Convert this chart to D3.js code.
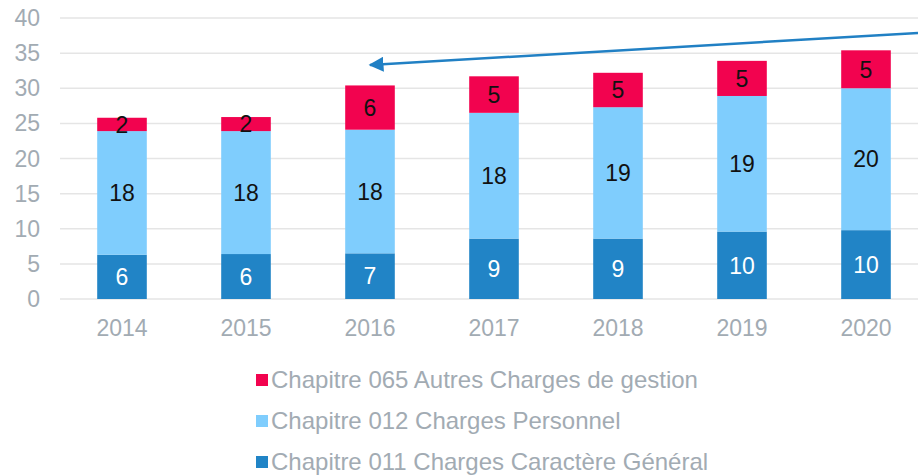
<!DOCTYPE html>
<html>
<head>
<meta charset="utf-8">
<script src="https://cdn.jsdelivr.net/npm/d3@7"></script>
<style>
  body { margin: 0; background: #fff; }
  svg { display: block; font-family: "Liberation Sans", Arial, sans-serif; }
</style>
</head>
<body>
<div id="chart"></div>
<script>
const width = 918;
const height = 476;

// data
const years = ["2014", "2015", "2016", "2017", "2018", "2019", "2020"];
const chap011 = [6.3, 6.4, 6.5, 8.6, 8.6, 9.6, 9.8];
const chap012 = [17.6, 17.5, 17.6, 17.9, 18.7, 19.3, 20.2];
const chap065 = [1.9, 2.0, 6.3, 5.2, 4.9, 5.0, 5.4];
const yTicks = [0, 5, 10, 15, 20, 25, 30, 35, 40];

const seriesKeys = ["c011", "c012", "c065"];
const seriesNames = {
    c011: "Chapitre 011 Charges Caractère Général",
    c012: "Chapitre 012 Charges Personnel",
    c065: "Chapitre 065 Autres Charges de gestion"
};
const colors = { c011: "#2184c6", c012: "#7fcdfd", c065: "#f2034f" };
const labelColors = { c011: "#ffffff", c012: "#111111", c065: "#111111" };

const table = years.map((y, i) => ({ year: y, c011: chap011[i], c012: chap012[i], c065: chap065[i] }));
const stacked = d3.stack().keys(seriesKeys)(table);

const svg = d3.select("#chart").append("svg")
    .attr("width", width)
    .attr("height", height);

const x = d3.scaleBand()
    .domain(years)
    .range([60, 928])
    .paddingInner(0.6)
    .paddingOuter(0.3);

const y = d3.scaleLinear()
    .domain([0, 40])
    .range([299, 18]);

// gridlines
svg.append("g")
    .selectAll("line")
    .data(yTicks)
    .enter()
    .append("line")
    .attr("x1", 60)
    .attr("x2", width)
    .attr("y1", d => y(d))
    .attr("y2", d => y(d))
    .style("stroke", "#e5e5e5")
    .style("stroke-width", 1.5);

// y tick labels
svg.append("g")
    .selectAll("text")
    .data(yTicks)
    .enter()
    .append("text")
    .attr("x", 40)
    .attr("y", d => y(d))
    .attr("dy", "0.35em")
    .attr("text-anchor", "end")
    .style("font-size", "23px")
    .style("fill", "#a2abb3")
    .text(d => d);

// x tick labels
svg.append("g")
    .selectAll("text")
    .data(years)
    .enter()
    .append("text")
    .attr("x", d => x(d) + x.bandwidth() / 2)
    .attr("y", 336)
    .attr("text-anchor", "middle")
    .style("font-size", "23px")
    .style("fill", "#a2abb3")
    .text(d => d);

// bars
const layers = svg.append("g")
    .selectAll("g")
    .data(stacked)
    .enter()
    .append("g")
    .style("fill", d => colors[d.key]);

layers.selectAll("rect")
    .data(d => d)
    .enter()
    .append("rect")
    .attr("x", d => x(d.data.year))
    .attr("y", d => y(d[1]))
    .attr("width", x.bandwidth())
    .attr("height", d => y(d[0]) - y(d[1]));

// value labels
stacked.forEach(layer => {
    svg.append("g")
        .selectAll("text")
        .data(layer)
        .enter()
        .append("text")
        .attr("x", d => x(d.data.year) + x.bandwidth() / 2)
        .attr("y", d => (y(d[0]) + y(d[1])) / 2)
        .attr("dy", "0.36em")
        .attr("text-anchor", "middle")
        .style("font-size", "23px")
        .style("fill", labelColors[layer.key])
        .text(d => Math.round(d[1] - d[0]));
});

// arrow annotation
svg.append("defs").append("marker")
    .attr("id", "arrowhead")
    .attr("viewBox", "0 0 10 10")
    .attr("refX", 9)
    .attr("refY", 5)
    .attr("markerWidth", 6)
    .attr("markerHeight", 6)
    .attr("orient", "auto")
    .append("path")
    .attr("d", "M10,5 L0,0 L0,10 Z")
    .style("fill", "#2180c4");

svg.append("line")
    .attr("x1", 918)
    .attr("y1", 33)
    .attr("x2", 370)
    .attr("y2", 65)
    .style("stroke", "#2180c4")
    .style("stroke-width", 2.5)
    .attr("marker-end", "url(#arrowhead)");

// legend (reverse order, one per line)
const legendOrder = ["c065", "c012", "c011"];
const legend = svg.append("g")
    .selectAll("g")
    .data(legendOrder)
    .enter()
    .append("g")
    .attr("transform", (d, i) => `translate(256, ${380 + i * 41})`);

legend.append("rect")
    .attr("x", 0)
    .attr("y", -6)
    .attr("width", 12)
    .attr("height", 12)
    .style("fill", d => colors[d]);

legend.append("text")
    .attr("x", 15)
    .attr("y", 0)
    .attr("dy", "0.35em")
    .style("font-size", "24px")
    .style("fill", "#a2abb3")
    .text(d => seriesNames[d]);
</script>
</body>
</html>
